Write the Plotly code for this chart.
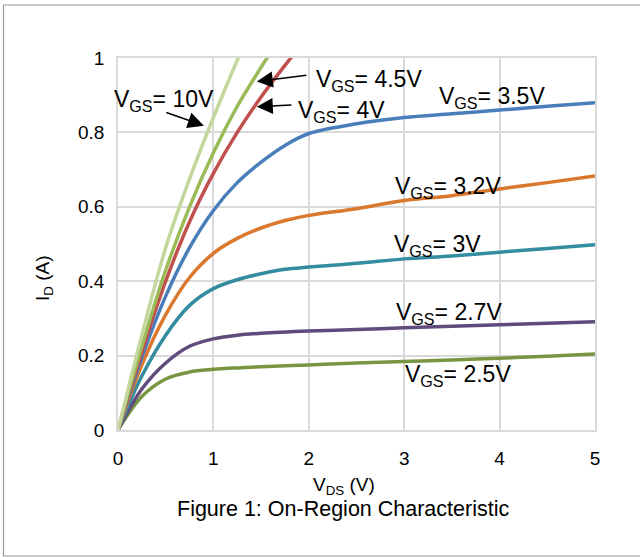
import plotly.graph_objects as go

FONT = "Liberation Sans, Arial, sans-serif"

# ---- data ----
vgs_labels = ["10V", "4.5V", "4V", "3.5V", "3.2V", "3V", "2.7V", "2.5V"]

x_10 = [0, 0.25, 0.5, 0.75, 1.0, 1.26, 1.4]
y_10 = [0, 0.255, 0.49, 0.675, 0.84, 1.0, 1.08]

x_45 = [0, 0.25, 0.5, 0.75, 1.0, 1.25, 1.5, 1.6, 1.75]
y_45 = [0, 0.225, 0.43, 0.60, 0.745, 0.87, 0.975, 1.015, 1.07]

x_4 = [0, 0.25, 0.5, 0.75, 1.0, 1.25, 1.5, 1.75, 2.0]
y_4 = [0, 0.21, 0.40, 0.56, 0.69, 0.80, 0.895, 0.98, 1.06]

x_35 = [0, 0.25, 0.5, 0.75, 1.0, 1.25, 1.5, 1.75, 2.0, 2.5, 3.0, 3.5, 4.0, 4.5, 5.0]
y_35 = [0, 0.195, 0.36, 0.49, 0.59, 0.665, 0.72, 0.765, 0.797, 0.823, 0.84, 0.85, 0.86, 0.87, 0.88]

x_32 = [0, 0.25, 0.5, 0.75, 1.0, 1.25, 1.5, 1.75, 2.0, 2.5, 3.0, 3.5, 4.0, 4.5, 5.0]
y_32 = [0, 0.175, 0.31, 0.41, 0.475, 0.515, 0.543, 0.563, 0.577, 0.595, 0.617, 0.63, 0.648, 0.665, 0.683]

x_3 = [0, 0.25, 0.5, 0.75, 1.0, 1.25, 1.5, 1.75, 2.0, 2.5, 3.0, 3.5, 4.0, 4.5, 5.0]
y_3 = [0, 0.145, 0.255, 0.335, 0.38, 0.404, 0.42, 0.432, 0.438, 0.448, 0.46, 0.468, 0.478, 0.488, 0.498]

x_27 = [0, 0.25, 0.5, 0.75, 1.0, 1.25, 1.5, 2.0, 2.5, 3.0, 3.5, 4.0, 4.5, 5.0]
y_27 = [0, 0.11, 0.18, 0.225, 0.245, 0.255, 0.26, 0.266, 0.27, 0.275, 0.279, 0.283, 0.287, 0.291]

x_25 = [0, 0.25, 0.5, 0.75, 1.0, 1.25, 1.5, 2.0, 2.5, 3.0, 3.5, 4.0, 4.5, 5.0]
y_25 = [0, 0.09, 0.137, 0.156, 0.163, 0.167, 0.17, 0.175, 0.18, 0.184, 0.188, 0.193, 0.198, 0.204]

x_ticks = [0, 1, 2, 3, 4, 5]
y_ticks = [0, 0.2, 0.4, 0.6, 0.8, 1]
y_tick_text = ["0", "0.2", "0.4", "0.6", "0.8", "1"]

series = [
    (x_25, y_25, "#789641"),
    (x_27, y_27, "#604B7D"),
    (x_3, y_3, "#348CA0"),
    (x_32, y_32, "#DA782E"),
    (x_35, y_35, "#4A7EBB"),
    (x_4, y_4, "#C0504D"),
    (x_45, y_45, "#9BBB59"),
    (x_10, y_10, "#C3D69B"),
]

fig = go.Figure()
for xs, ys, col in series:
    fig.add_trace(go.Scatter(x=xs, y=ys, mode="lines",
                             line=dict(color=col, width=3.5, shape="spline", smoothing=1.0),
                             hoverinfo="skip", showlegend=False))

L, R, T, B = 118, 45, 58, 128
PW, PH = 640 - L - R, 558 - T - B

def px(X):
    return (X - L) / PW

def py(Y):
    return (430 - Y) / PH

# label positions (paper coords from pixel positions): text left edge, vertical middle
label_pos = {
    "10V": (112, 100),
    "4.5V": (314, 81),
    "4V": (296, 111),
    "3.5V": (437, 97),
    "3.2V": (393, 187),
    "3V": (392, 245),
    "2.7V": (394, 313),
    "2.5V": (403, 375),
}
for lab in vgs_labels:
    lx, ly = label_pos[lab]
    fig.add_annotation(x=px(lx), y=py(ly), xref="paper", yref="paper", text="V<sub>GS</sub>= " + lab,
                       showarrow=False, xanchor="left", yanchor="middle",
                       font=dict(family=FONT, size=23, color="black"))

# arrows: (head x, head y, tail x, tail y) in data coords
arrows = [
    (0.90, 0.818, 0.49, 0.855),
    (1.455, 0.937, 1.99, 0.954),
    (1.455, 0.869, 1.834, 0.874),
]
for hx, hy, tx, ty in arrows:
    fig.add_annotation(x=hx, y=hy, ax=tx, ay=ty, xref="x", yref="y", axref="x", ayref="y",
                       text="", showarrow=True, arrowhead=2, arrowsize=2.0, arrowwidth=1.6,
                       arrowcolor="black")

fig.add_annotation(x=px(44), y=py(278), xref="paper", yref="paper", text="I<sub>D</sub> (A)",
                   textangle=-90, showarrow=False, xanchor="center", yanchor="middle",
                   font=dict(family=FONT, size=19, color="black"))
fig.add_annotation(x=px(344), y=py(486), xref="paper", yref="paper", text="V<sub>DS</sub> (V)",
                   showarrow=False, xanchor="center", yanchor="middle",
                   font=dict(family=FONT, size=19, color="black"))
fig.add_annotation(x=px(343), y=py(509), xref="paper", yref="paper",
                   text="Figure 1: On-Region Characteristic",
                   showarrow=False, xanchor="center", yanchor="middle",
                   font=dict(family=FONT, size=21.5, color="black"))

fig.add_shape(type="rect", xref="paper", yref="paper",
              x0=px(3.5), x1=px(642), y0=py(556), y1=py(5),
              line=dict(color="#9a9a9a", width=1.2), fillcolor="rgba(0,0,0,0)", layer="below")

fig.update_xaxes(range=[0, 5], tickvals=x_ticks, showgrid=True, gridcolor="#d9d9d9", gridwidth=1.8,
                 showline=True, linecolor="#d9d9d9", linewidth=1.8, mirror=True, zeroline=False,
                 ticks="", ticklabelstandoff=10,
                 tickfont=dict(family=FONT, size=19, color="black"))
fig.update_yaxes(range=[0, 1], tickvals=y_ticks, ticktext=y_tick_text, showgrid=True,
                 gridcolor="#d9d9d9", gridwidth=1.8,
                 showline=True, linecolor="#d9d9d9", linewidth=1.8, mirror=True, zeroline=False,
                 ticks="", ticklabelstandoff=8,
                 tickfont=dict(family=FONT, size=19, color="black"))

fig.update_layout(width=640, height=558, margin=dict(l=L, r=R, t=T, b=B),
                  paper_bgcolor="white", plot_bgcolor="white", showlegend=False)

fig.write_html("out.html")
